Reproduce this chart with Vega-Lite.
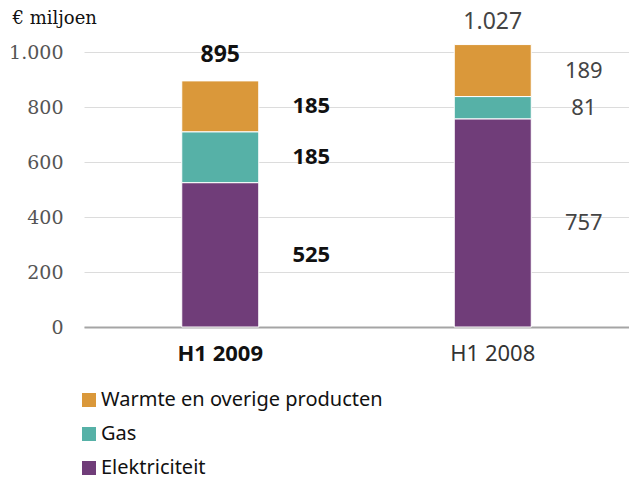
{
  "$schema": "https://vega.github.io/schema/vega-lite/v6.json",
  "width": 545,
  "height": 275,
  "autosize": {"type": "none"},
  "padding": {"left": 84, "top": 52, "right": 0, "bottom": 152},
  "background": "white",
  "config": {
    "locale": {"number": {"decimal": ",", "thousands": ".", "grouping": [3], "currency": ["€", ""]}},
    "view": {"stroke": null},
    "font": "Noto Sans"
  },
  "data": {
    "values": [
      {"periode": "H1 2009", "categorie": "Elektriciteit", "waarde": 525},
      {"periode": "H1 2009", "categorie": "Gas", "waarde": 185},
      {"periode": "H1 2009", "categorie": "Warmte en overige producten", "waarde": 185},
      {"periode": "H1 2008", "categorie": "Elektriciteit", "waarde": 757},
      {"periode": "H1 2008", "categorie": "Gas", "waarde": 81},
      {"periode": "H1 2008", "categorie": "Warmte en overige producten", "waarde": 189}
    ]
  },
  "encoding": {
    "x": {
      "field": "periode", "type": "nominal", "sort": ["H1 2009", "H1 2008"],
      "scale": {"paddingInner": 0, "paddingOuter": 0},
      "axis": {
        "title": null, "ticks": false, "labelAngle": 0,
        "labelFont": "Noto Sans", "labelFontSize": 22, "labelPadding": 16,
        "labelColor": {"condition": {"test": "datum.value == 'H1 2009'", "value": "#111111"}, "value": "#333333"},
        "labelFontWeight": {"condition": {"test": "datum.value == 'H1 2009'", "value": "bold"}, "value": "normal"},
        "domainColor": "#a5a5a5", "domainWidth": 2, "grid": false
      }
    }
  },
  "layer": [
    {
      "mark": {"type": "bar", "width": 77, "stroke": "white", "strokeWidth": 1},
      "encoding": {
        "y": {
          "field": "waarde", "type": "quantitative", "stack": "zero",
          "scale": {"domain": [0, 1000], "nice": false},
          "axis": {
            "title": "€ miljoen", "titleAngle": 0, "titleX": -72, "titleY": -34,
            "titleAlign": "left", "titleBaseline": "middle",
            "titleFont": "DejaVu Serif", "titleFontSize": 18, "titleFontWeight": "normal", "titleColor": "#111111",
            "values": [0, 200, 400, 600, 800, 1000], "format": ",d",
            "labelFont": "DejaVu Serif", "labelFontSize": 19, "labelColor": "#555555", "labelPadding": 21,
            "ticks": false, "domain": false,
            "gridColor": "#dcdcdc", "gridWidth": 1
          }
        },
        "color": {
          "field": "categorie", "type": "nominal",
          "scale": {
            "domain": ["Warmte en overige producten", "Gas", "Elektriciteit"],
            "range": ["#DA983A", "#56B1A7", "#703D79"]
          },
          "legend": {
            "title": null, "orient": "none", "legendX": -5, "legendY": 338,
            "symbolType": "square", "symbolSize": 196, "symbolStrokeWidth": 0,
            "labelFont": "Noto Sans", "labelFontSize": 20, "labelColor": "#111111",
            "labelOffset": 2, "rowPadding": 14, "labelLimit": 0
          }
        },
        "order": {"field": "categorie", "sort": "ascending"}
      }
    },
    {
      "transform": [
        {"stack": "waarde", "groupby": ["periode"], "sort": [{"field": "categorie", "order": "ascending"}], "as": ["v0", "v1"]},
        {"calculate": "(datum.v0 + datum.v1) / 2", "as": "midden"},
        {"filter": "datum.periode == 'H1 2009'"}
      ],
      "mark": {"type": "text", "dx": 91, "align": "center", "baseline": "middle", "fontSize": 22, "fontWeight": "bold", "color": "#111111", "font": "Noto Sans"},
      "encoding": {
        "y": {"field": "midden", "type": "quantitative"},
        "text": {"field": "waarde", "type": "quantitative", "format": ",d"}
      }
    },
    {
      "transform": [
        {"stack": "waarde", "groupby": ["periode"], "sort": [{"field": "categorie", "order": "ascending"}], "as": ["v0", "v1"]},
        {"calculate": "(datum.v0 + datum.v1) / 2", "as": "midden"},
        {"filter": "datum.periode == 'H1 2008'"}
      ],
      "mark": {"type": "text", "dx": 91, "align": "center", "baseline": "middle", "fontSize": 22, "fontWeight": "normal", "color": "#444444", "font": "Noto Sans"},
      "encoding": {
        "y": {"field": "midden", "type": "quantitative"},
        "text": {"field": "waarde", "type": "quantitative", "format": ",d"}
      }
    },
    {
      "transform": [
        {"aggregate": [{"op": "sum", "field": "waarde", "as": "totaal"}], "groupby": ["periode"]},
        {"filter": "datum.periode == 'H1 2009'"}
      ],
      "mark": {"type": "text", "dy": -26, "align": "center", "baseline": "middle", "fontSize": 23, "fontWeight": "bold", "color": "#111111", "font": "Noto Sans"},
      "encoding": {
        "y": {"field": "totaal", "type": "quantitative"},
        "text": {"field": "totaal", "type": "quantitative", "format": ",d"}
      }
    },
    {
      "transform": [
        {"aggregate": [{"op": "sum", "field": "waarde", "as": "totaal"}], "groupby": ["periode"]},
        {"filter": "datum.periode == 'H1 2008'"}
      ],
      "mark": {"type": "text", "dy": -23, "align": "center", "baseline": "middle", "fontSize": 23, "fontWeight": "normal", "color": "#444444", "font": "Noto Sans"},
      "encoding": {
        "y": {"field": "totaal", "type": "quantitative"},
        "text": {"field": "totaal", "type": "quantitative", "format": ",d"}
      }
    }
  ]
}
